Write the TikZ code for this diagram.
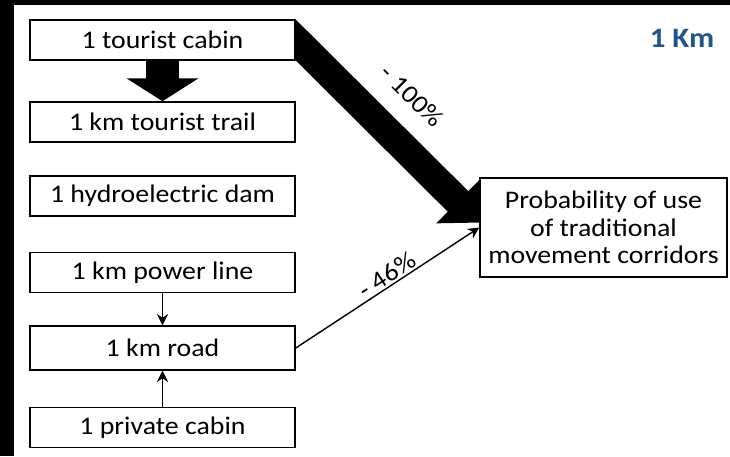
\documentclass[tikz,border=0pt]{standalone}
\usepackage{fontspec}
\setmainfont{Carlito}[FakeStretch = 1.1]
\usepackage{tikz}
\usetikzlibrary{arrows.meta, backgrounds}
\definecolor{kmblue}{RGB}{36, 84, 140}

\begin{document}
\begin{tikzpicture}[x = 0.025cm, y = -0.025cm, thick,	% 1単位 = 1px
  box/.style = {draw, fill = white, line width = 1pt, inner sep = 0pt,
    minimum width = 6.625cm, minimum height = 1cm,
    font = \fontsize{18}{20}\selectfont},
  pct/.style = {sloped, font = \fontsize{18}{20}\selectfont}]
  \useasboundingbox (0, 0) rectangle (730, 456);

  % 背景 (黒枠)
  \begin{pgfonlayer}{background}
    \fill [black] (0, 0) rectangle (730, 456);
    \fill [white] (14, 5) rectangle (730, 456);
  \end{pgfonlayer}

  % 左の箱
  \node [box] (cabin)  at (162.5, 40)    {1 tourist cabin};
  \node [box] (trail)  at (162.5, 122)   {1 km tourist trail};
  \node [box] (dam)    at (162.5, 196)   {1 hydroelectric dam};
  \node [box] (pline)  at (162.5, 272.5) {1 km power line};
  \node [box, minimum height = 1.1cm] (road) at (162.5, 348) {1 km road};
  \node [box] (pcabin) at (162.5, 427.5) {1 private cabin};

  % 右の箱
  \node [box, minimum width = 6.175cm, minimum height = 2.475cm, align = center,
    font = \fontsize{18}{19.6}\selectfont] (prob) at (603.5, 227.5)
    {Probability of use\\of traditional\\movement corridors};

  \node [text = kmblue, font = \fontsize{20}{22}\selectfont\bfseries] (km) at (682, 38) {1 Km};

  % 矢印
  \begin{pgfonlayer}{background}
    \draw [line width = 0.8cm, -{Triangle[length = 0.575cm, width = 1.775cm]}] (cabin) -- (trail);
    \draw [line width = 0.725cm, shorten <= -0.35cm, -{Triangle[length = 0.75cm, width = 1.5cm]}]
      (cabin.east) -- ([yshift = 3.5pt]prob.west)
      node [pct, pos = 0.47, above = 0.36cm] (lcabin) {- 100\%};
    \draw [line width = 1pt, -{Stealth[length = 8pt, width = 8pt]}] (road.east) -- (prob.west)
      node [pct, pos = 0.53, above, inner sep = 1pt] (lroad) {- 46\%};
    \draw [line width = 1pt, -{Stealth[length = 8pt, width = 8pt]}] (pline) -- (road);
    \draw [line width = 1pt, -{Stealth[length = 8pt, width = 8pt]}] (pcabin) -- (road);
  \end{pgfonlayer}

\end{tikzpicture}
\end{document}
